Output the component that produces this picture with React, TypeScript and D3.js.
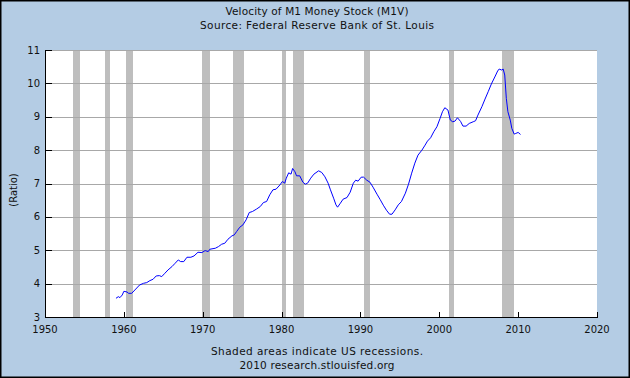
import React from "react";
import * as d3 from "d3";

const years: number[] = [
  1959.0, 1959.3, 1959.5, 1959.8, 1960.0, 1960.4, 1960.6, 1961.0, 1961.4, 1962.0,
  1962.5, 1962.9, 1963.3, 1963.7, 1964.1, 1964.5, 1964.8, 1965.2, 1965.6, 1966.1,
  1966.5, 1966.9, 1967.2, 1967.6, 1968.0, 1968.5, 1968.9, 1969.4, 1969.9, 1970.3,
  1970.7, 1970.9, 1971.6, 1972.0, 1972.4, 1972.8, 1973.2, 1973.7, 1974.0, 1974.3,
  1974.7, 1975.1, 1975.5, 1975.9, 1976.3, 1976.8, 1977.3, 1977.7, 1978.1, 1978.5,
  1978.9, 1979.3, 1979.8, 1980.1, 1980.4, 1980.6, 1980.9, 1981.2, 1981.4, 1981.7,
  1981.9, 1982.3, 1982.7, 1983.0, 1983.3, 1983.7, 1984.1, 1984.7, 1985.1, 1985.5,
  1985.9, 1986.2, 1986.6, 1986.9, 1987.1, 1987.4, 1987.8, 1988.3, 1988.7, 1989.1,
  1989.4, 1989.7, 1990.1, 1990.4, 1990.8, 1991.2, 1991.6, 1992.1, 1992.5, 1992.9,
  1993.3, 1993.7, 1994.0, 1994.4, 1994.8, 1995.2, 1995.7, 1996.1, 1996.5, 1996.9,
  1997.3, 1997.8, 1998.2, 1998.5, 1998.9, 1999.3, 1999.7, 2000.1, 2000.4, 2000.7,
  2001.1, 2001.4, 2001.7, 2002.0, 2002.3, 2002.7, 2003.0, 2003.4, 2003.8, 2004.3,
  2004.6, 2004.9, 2005.4, 2005.8, 2006.2, 2006.6, 2007.1, 2007.4, 2007.6, 2007.9,
  2008.1, 2008.3, 2008.5, 2008.7, 2009.0, 2009.2, 2009.5, 2009.7, 2010.0, 2010.3,
];

const m1v: number[] = [
  3.56, 3.61, 3.58, 3.66, 3.77, 3.75, 3.71, 3.71, 3.81, 3.96,
  4.01, 4.03, 4.09, 4.13, 4.23, 4.24, 4.21, 4.31, 4.41, 4.51,
  4.61, 4.71, 4.66, 4.66, 4.79, 4.79, 4.83, 4.94, 4.93, 4.99,
  4.96, 5.03, 5.06, 5.11, 5.18, 5.21, 5.33, 5.43, 5.46, 5.56,
  5.69, 5.76, 5.91, 6.13, 6.16, 6.23, 6.31, 6.43, 6.46, 6.66,
  6.81, 6.83, 6.96, 7.06, 7.01, 7.16, 7.32, 7.28, 7.45, 7.35,
  7.23, 7.23, 7.04, 6.98, 7.01, 7.16, 7.28, 7.38, 7.33, 7.20,
  7.01, 6.81, 6.56, 6.36, 6.29, 6.39, 6.53, 6.58, 6.74, 7.01,
  7.10, 7.07, 7.19, 7.19, 7.10, 7.04, 6.89, 6.68, 6.52, 6.35,
  6.20, 6.08, 6.08, 6.21, 6.36, 6.46, 6.71, 6.98, 7.31, 7.61,
  7.85, 8.00, 8.15, 8.27, 8.37, 8.55, 8.70, 8.95, 9.15, 9.27,
  9.20, 8.90, 8.85, 8.87, 8.97, 8.86, 8.72, 8.72, 8.80, 8.85,
  8.88, 9.05, 9.30, 9.53, 9.75, 9.98, 10.22, 10.37, 10.43, 10.40,
  10.43, 10.25, 9.55, 9.15, 8.90, 8.65, 8.48, 8.50, 8.53, 8.47,
];

const recessionStart: number[] = [1953.5, 1957.6, 1960.3, 1969.9, 1973.85, 1980.0, 1981.5, 1990.5, 2001.2, 2007.9];
const recessionEnd: number[] = [1954.4, 1958.3, 1961.1, 1970.9, 1975.2, 1980.55, 1982.9, 1991.2, 2001.9, 2009.5];

const xTicks: number[] = [1950, 1960, 1970, 1980, 1990, 2000, 2010, 2020];
const yTicks: number[] = [3, 4, 5, 6, 7, 8, 9, 10, 11];

const titleLines: string[] = ["Velocity of M1 Money Stock (M1V)", "Source: Federal Reserve Bank of St. Louis"];
const footerLines: string[] = ["Shaded areas indicate US recessions.", "2010 research.stlouisfed.org"];
const yLabel = "(Ratio)";

const titleWidths = [183, 234];
const titleBaselines = [14.7, 28.5];
const footerWidths = [212, 155];
const footerBaselines = [355, 368.5];

export default function App() {
  const W = 630;
  const H = 378;
  const left = 45;
  const right = 597;
  const top = 50;
  const bottom = 317;

  const x = d3.scaleLinear().domain([1950, 2020]).range([left, right]);
  const y = d3.scaleLinear().domain([3, 11]).range([bottom, top]);

  const pts: [number, number][] = years.map((yr, i) => [yr, m1v[i]]);
  const line = d3
    .line<[number, number]>()
    .x((d) => x(d[0]))
    .y((d) => y(d[1]));

  const font = "'DejaVu Sans', Verdana, sans-serif";

  return (
    <svg
      width={W}
      height={H}
      style={{ position: "absolute", left: 0, top: 0, display: "block" }}
      fontFamily={font}
    >
      <rect x={0} y={0} width={W} height={H} fill="#B4CCE4" />
      <rect x={0.75} y={0.75} width={W - 1.5} height={H - 1.5} fill="none" stroke="#000" strokeWidth={1.5} />

      {titleLines.map((t, i) => (
        <text
          key={t}
          x={317}
          y={titleBaselines[i]}
          textAnchor="middle"
          fontSize={10.5}
          fill="#111"
          textLength={titleWidths[i]}
          lengthAdjust="spacing"
        >
          {t}
        </text>
      ))}

      <rect x={left} y={top} width={right - left} height={bottom - top} fill="#fff" />

      {recessionStart.map((s, i) => (
        <rect
          key={s}
          x={Math.round(x(s))}
          y={top}
          width={Math.max(1, Math.round(x(recessionEnd[i])) - Math.round(x(s)))}
          height={bottom - top}
          fill="#BEBEBE"
          shapeRendering="crispEdges"
        />
      ))}

      {yTicks.map((t) => (
        <line
          key={t}
          x1={left}
          x2={right}
          y1={Math.round(y(t)) + 0.5}
          y2={Math.round(y(t)) + 0.5}
          stroke="#A8A8A8"
          strokeWidth={1}
          shapeRendering="crispEdges"
        />
      ))}

      <path d={line(pts) || ""} fill="none" stroke="#0000FF" strokeWidth={1} />

      <line x1={left + 0.5} x2={left + 0.5} y1={top} y2={bottom + 1} stroke="#000" shapeRendering="crispEdges" />
      <line x1={left} x2={right + 1} y1={bottom + 0.5} y2={bottom + 0.5} stroke="#000" shapeRendering="crispEdges" />

      {yTicks.map((t) => (
        <g key={"yt" + t}>
          <line
            x1={left}
            x2={left + 7}
            y1={Math.round(y(t)) + 0.5}
            y2={Math.round(y(t)) + 0.5}
            stroke="#000"
            shapeRendering="crispEdges"
          />
          <text x={40} y={y(t) + 3.6} textAnchor="end" fontSize={10} fill="#111">
            {t}
          </text>
        </g>
      ))}

      {xTicks.map((t) => (
        <g key={"xt" + t}>
          <line
            x1={Math.round(x(t)) + 0.5}
            x2={Math.round(x(t)) + 0.5}
            y1={bottom}
            y2={bottom - 5}
            stroke="#000"
            shapeRendering="crispEdges"
          />
          <text x={x(t)} y={333} textAnchor="middle" fontSize={10} fill="#111">
            {t}
          </text>
        </g>
      ))}

      <text transform={`translate(17, 190) rotate(-90)`} textAnchor="middle" fontSize={10} fill="#111">
        {yLabel}
      </text>

      {footerLines.map((t, i) => (
        <text
          key={t}
          x={317}
          y={footerBaselines[i]}
          textAnchor="middle"
          fontSize={10.5}
          fill="#111"
          textLength={footerWidths[i]}
          lengthAdjust="spacing"
        >
          {t}
        </text>
      ))}
    </svg>
  );
}
